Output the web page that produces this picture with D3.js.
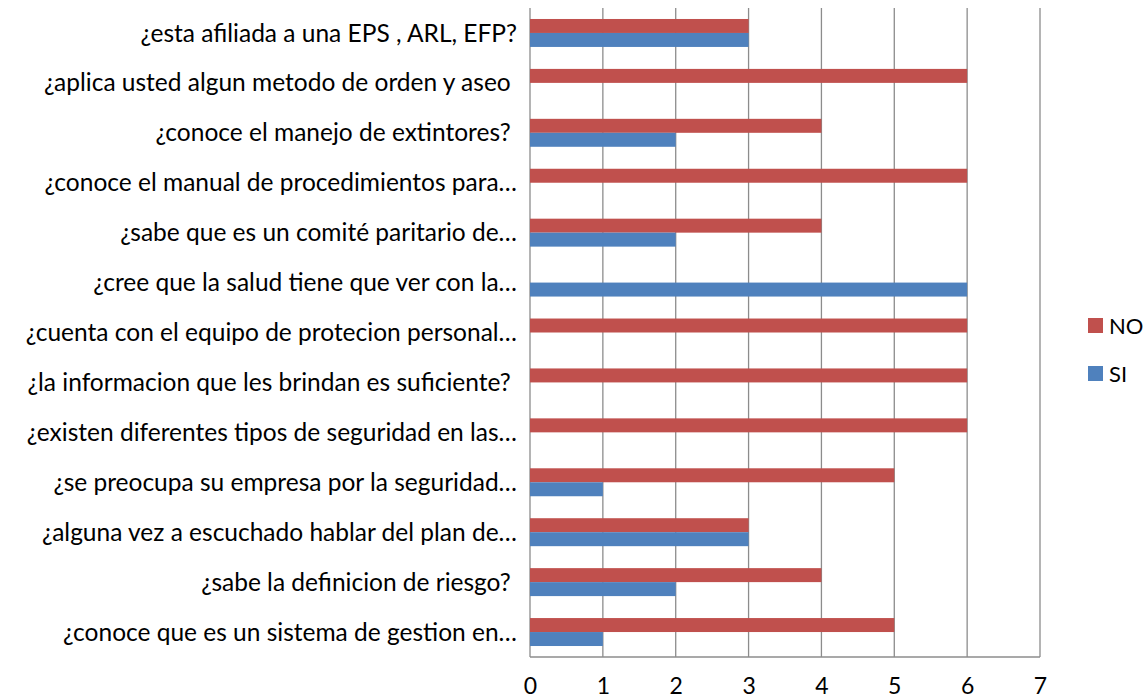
<!DOCTYPE html>
<html lang="es">
<head>
<meta charset="UTF-8">
<title>Encuesta</title>
<script src="https://cdn.jsdelivr.net/npm/d3@7"></script>
<style>
  body { margin: 0; background: #fff; }
  text { font-family: Lato, "Noto Sans", sans-serif; fill: #000; white-space: pre; }
</style>
</head>
<body>
<svg id="chart" width="1148" height="700"></svg>
<script>
    // preguntas, de arriba hacia abajo
    const categories = [
        "¿esta afiliada a una EPS , ARL, EFP?",
        "¿aplica usted algun metodo de orden y aseo ",
        "¿conoce el manejo de extintores? ",
        "¿conoce el manual de procedimientos para…",
        "¿sabe que es un comité paritario de…",
        "¿cree que la salud tiene que ver con la…",
        "¿cuenta con el equipo de protecion personal…",
        "¿la informacion que les brindan es suficiente? ",
        "¿existen diferentes tipos de seguridad en las…",
        "¿se preocupa su empresa por la seguridad…",
        "¿alguna vez a escuchado hablar del plan de…",
        "¿sabe la definicion de riesgo? ",
        "¿conoce que es un sistema de gestion en…"
    ];
    const noValues = [3, 6, 4, 6, 4, 0, 6, 6, 6, 5, 3, 4, 5];
    const siValues = [3, 0, 2, 0, 2, 6, 0, 0, 0, 1, 3, 2, 1];
    const seriesNames = ["NO", "SI"];
    const colors = {NO: "#C0504D", SI: "#4F81BD"};
    const xTicks = [0, 1, 2, 3, 4, 5, 6, 7];

    const svg = d3.select("#chart");
    const plotLeft = 530, plotRight = 1040, plotTop = 8, plotBottom = 657;

    const x = d3.scaleLinear().domain([0, 7]).range([plotLeft, plotRight]);
    const y = d3.scaleBand().domain(categories).range([plotTop, plotBottom])
        .paddingInner(0.44).paddingOuter(0.22);
    const ySub = d3.scaleBand().domain(seriesNames).range([0, y.bandwidth()]);

    // gridlines
    svg.append("g").selectAll("line")
        .data(xTicks)
        .enter()
        .append("line")
        .attr("x1", d => x(d)).attr("x2", d => x(d))
        .attr("y1", plotTop).attr("y2", plotBottom)
        .attr("stroke", "#8c8c8c").attr("stroke-width", 1.3);
    svg.append("line")
        .attr("x1", plotLeft).attr("x2", plotRight)
        .attr("y1", plotBottom).attr("y2", plotBottom)
        .attr("stroke", "#8c8c8c").attr("stroke-width", 1.3);

    // bars
    const rows = categories.map(function(c, i) {
        return {cat: c, NO: noValues[i], SI: siValues[i]};
    });
    seriesNames.forEach(function(s) {
        svg.append("g").selectAll("rect")
            .data(rows)
            .enter()
            .append("rect")
            .attr("x", x(0))
            .attr("y", d => y(d.cat) + ySub(s))
            .attr("width", d => x(d[s]) - x(0))
            .attr("height", ySub.bandwidth())
            .attr("fill", colors[s]);
    });

    // category labels
    svg.append("g").selectAll("text")
        .data(categories)
        .enter()
        .append("text")
        .attr("x", 517)
        .attr("y", d => y(d) + y.bandwidth() / 2)
        .attr("dy", "0.35em")
        .attr("text-anchor", "end")
        .attr("font-size", 24.5)
        .text(d => d);

    // x axis
    const xAxis = svg.append("g")
        .attr("transform", "translate(0," + plotBottom + ")")
        .call(d3.axisBottom(x).tickValues(xTicks).tickSize(0).tickFormat(d3.format("d")));
    xAxis.select(".domain").remove();
    xAxis.selectAll("text")
        .attr("y", 37)
        .attr("dy", 0)
        .attr("font-size", 23)
        .style("font-family", "Lato, 'Noto Sans', sans-serif");

    // legend
    const legend = svg.append("g");
    seriesNames.forEach(function(s, i) {
        legend.append("rect")
            .attr("x", 1088).attr("y", 318 + i * 48)
            .attr("width", 15).attr("height", 15)
            .attr("fill", colors[s]);
        legend.append("text")
            .attr("x", 1109).attr("y", 326 + i * 48)
            .attr("dy", "0.35em")
            .attr("font-size", 22)
            .text(s);
    });
</script>
</body>
</html>
